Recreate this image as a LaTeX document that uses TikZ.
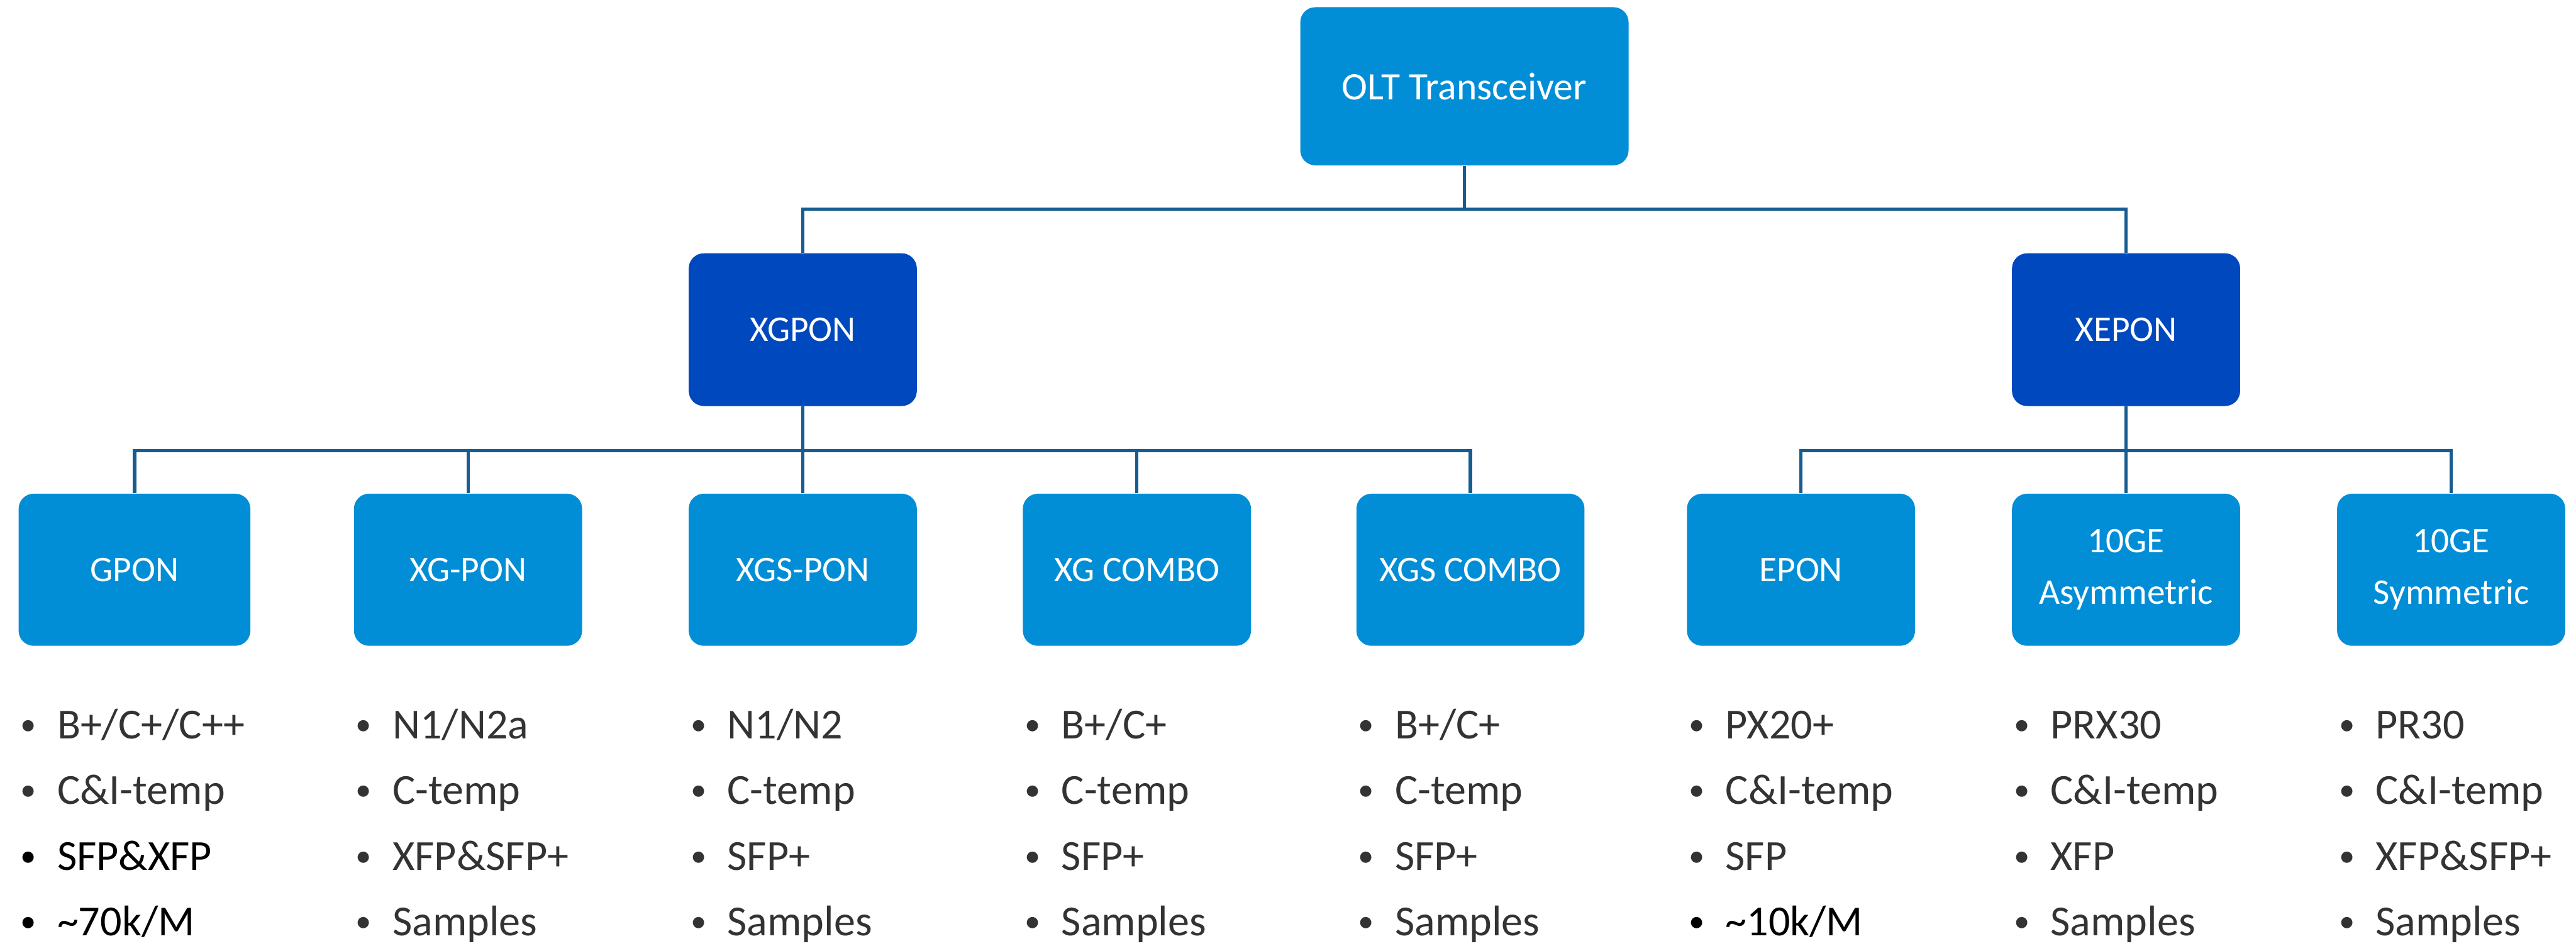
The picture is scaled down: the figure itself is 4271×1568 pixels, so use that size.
\documentclass[tikz,border=0pt]{standalone}
\usepackage{fontspec}
\setmainfont{Carlito}
\definecolor{boxlight}{RGB}{2,142,214}
\definecolor{boxdark}{RGB}{0,72,190}
\definecolor{linecol}{RGB}{22,92,145}
\definecolor{txtgray}{RGB}{51,51,51}
\newcommand\leafitem[4]{%
  \node[item, anchor=base, text=#3, font=\fontsize{15}{18}\selectfont] (#1-b#2) at ([shift={(17,{38+109*#2})}]#1.south west) {•};
  \node[item, text=#3] (#1-t#2) at ([shift={(64,{44+109*#2})}]#1.south west) {#4};
}
\begin{document}
\begin{tikzpicture}[x=0.01cm,y=-0.01cm,
  box/.style={rounded corners=0.25cm, minimum width=3.78cm, minimum height=2.52cm, inner sep=0pt, text=white, font=\fontsize{17}{24.2}\selectfont, align=center},
  light/.style={box, fill=boxlight},
  dark/.style={box, fill=boxdark},
  conn/.style={draw=linecol, line width=0.055cm},
  item/.style={anchor=base west, inner sep=0pt, font=\fontsize{20.2}{24}\selectfont}]
\useasboundingbox (0,0) rectangle (4271,1568);

\node[light, minimum width=5.44cm, minimum height=2.62cm, font=\fontsize{18.3}{22}\selectfont] (olt) at (2428,143) {OLT Transceiver};
\node[dark, minimum height=2.53cm] (xgpon) at (1331,546.5) {XGPON};
\node[dark, minimum height=2.53cm] (xepon) at (3525,546.5) {XEPON};

\node[light, minimum width=3.84cm] (gpon) at (223,944.5) {GPON};
\node[light] (xgp) at (776,944.5) {XG-PON};
\node[light] (xgsp) at (1331,944.5) {XGS-PON};
\node[light] (xgc) at (1885,944.5) {XG COMBO};
\node[light] (xgsc) at (2438,944.5) {XGS COMBO};
\node[light] (epon) at (2986,944.5) {EPON};
\node[light] (gasym) at (3525,944.5) {10GE\\Asymmetric};
\node[light] (gsym) at (4064,944.5) {10GE\\Symmetric};

\coordinate (j1) at (2428,347);
\coordinate (j2) at (1331,747);
\coordinate (j3) at (3525,747);

\draw[conn] (olt) -- (j1);
\draw[conn] (xgpon.north) |- (j1) -| (xepon.north);
\draw[conn] (xgpon) -- (xgsp);
\draw[conn] (gpon.north) |- (j2) -| (xgsc.north);
\draw[conn] (xgp.north) -- (xgp.north |- j2);
\draw[conn] (xgc.north) -- (xgc.north |- j2);
\draw[conn] (xepon) -- (gasym);
\draw[conn] (epon.north) |- (j3) -| (gsym.north);

\leafitem{gpon}{1}{txtgray}{B+/C+/C++}
\leafitem{gpon}{2}{txtgray}{C\&I-temp}
\leafitem{gpon}{3}{black}{SFP\&XFP}
\leafitem{gpon}{4}{black}{\textasciitilde70k/M}

\leafitem{xgp}{1}{txtgray}{N1/N2a}
\leafitem{xgp}{2}{txtgray}{C-temp}
\leafitem{xgp}{3}{txtgray}{XFP\&SFP+}
\leafitem{xgp}{4}{txtgray}{Samples}

\leafitem{xgsp}{1}{txtgray}{N1/N2}
\leafitem{xgsp}{2}{txtgray}{C-temp}
\leafitem{xgsp}{3}{txtgray}{SFP+}
\leafitem{xgsp}{4}{txtgray}{Samples}

\leafitem{xgc}{1}{txtgray}{B+/C+}
\leafitem{xgc}{2}{txtgray}{C-temp}
\leafitem{xgc}{3}{txtgray}{SFP+}
\leafitem{xgc}{4}{txtgray}{Samples}

\leafitem{xgsc}{1}{txtgray}{B+/C+}
\leafitem{xgsc}{2}{txtgray}{C-temp}
\leafitem{xgsc}{3}{txtgray}{SFP+}
\leafitem{xgsc}{4}{txtgray}{Samples}

\leafitem{epon}{1}{txtgray}{PX20+}
\leafitem{epon}{2}{txtgray}{C\&I-temp}
\leafitem{epon}{3}{txtgray}{SFP}
\leafitem{epon}{4}{black}{\textasciitilde10k/M}

\leafitem{gasym}{1}{txtgray}{PRX30}
\leafitem{gasym}{2}{txtgray}{C\&I-temp}
\leafitem{gasym}{3}{txtgray}{XFP}
\leafitem{gasym}{4}{txtgray}{Samples}

\leafitem{gsym}{1}{txtgray}{PR30}
\leafitem{gsym}{2}{txtgray}{C\&I-temp}
\leafitem{gsym}{3}{txtgray}{XFP\&SFP+}
\leafitem{gsym}{4}{txtgray}{Samples}
\end{tikzpicture}
\end{document}
